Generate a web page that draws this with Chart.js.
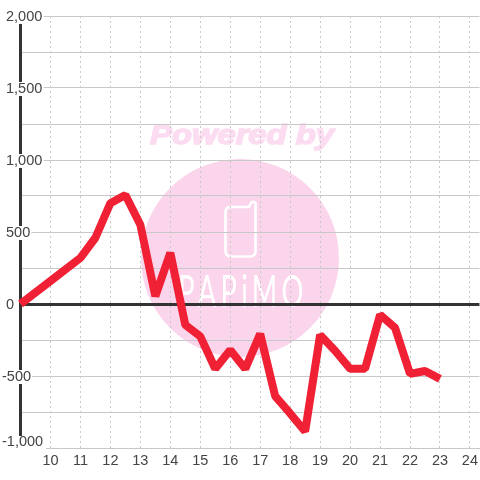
<!DOCTYPE html>
<html lang="en">
<head>
    <meta charset="UTF-8">
    <title>Chart</title>
    <style>
        html, body { margin: 0; padding: 0; background: #fff; overflow: hidden; }
        #wrap { position: relative; width: 480px; height: 480px; overflow: hidden; }
    </style>
</head>
<body>
    <div id="wrap"><canvas id="myChart" width="482" height="480"></canvas></div>

    <script src="https://cdn.jsdelivr.net/npm/chart.js"></script>
    <script>
        const hours = [9, 10, 11, 11.5, 12, 12.5, 13, 13.5, 14, 14.5, 15, 15.5, 16, 16.5, 17, 17.5, 18, 18.5, 19, 19.5, 20, 20.5, 21, 21.5, 22, 22.5, 23];
        const values = [0, 160, 320, 460, 700, 757, 550, 55, 355, -145, -225, -450, -320, -450, -208, -640, -760, -885, -215, -325, -450, -450, -75, -165, -485, -465, -520];
        const xTickLabels = [10, 11, 12, 13, 14, 15, 16, 17, 18, 19, 20, 21, 22, 23, 24];
        const yTickLabels = [2000, 1500, 1000, 500, 0, -500, -1000];

        // pink watermark sits behind the grid
        const watermark = {
            id: 'watermark',
            beforeDraw(chart) {
                const ctx = chart.ctx;
                ctx.save();
                ctx.fillStyle = '#fbd5ec';
                ctx.beginPath();
                ctx.arc(240, 258, 99, 0, Math.PI * 2);
                ctx.fill();

                ctx.save();
                ctx.fillStyle = '#fcdcf0';
                ctx.strokeStyle = '#fcdcf0';
                ctx.lineWidth = 1.5;
                ctx.translate(242, 144);
                ctx.scale(1.17, 1);
                ctx.font = 'italic bold 28px "Liberation Sans"';
                ctx.textAlign = 'center';
                ctx.fillText('Powered by', 0, 0);
                ctx.strokeText('Powered by', 0, 0);
                ctx.restore();

                // phone icon
                ctx.strokeStyle = '#fff';
                ctx.lineWidth = 2.6;
                ctx.beginPath();
                ctx.moveTo(231, 207);
                ctx.lineTo(249, 207);
                ctx.lineTo(251, 203);
                ctx.quadraticCurveTo(253, 200.5, 255.5, 203);
                ctx.lineTo(255.5, 251);
                ctx.quadraticCurveTo(255.5, 256.5, 250, 256.5);
                ctx.lineTo(231, 256.5);
                ctx.quadraticCurveTo(225.5, 256.5, 225.5, 251);
                ctx.lineTo(225.5, 212);
                ctx.quadraticCurveTo(225.5, 207, 231, 207);
                ctx.stroke();

                ctx.fillStyle = '#fff';
                ctx.translate(243, 307);
                ctx.scale(0.62, 1);
                ctx.font = '44px Lato';
                ctx.letterSpacing = '7px';
                ctx.textAlign = 'center';
                ctx.fillText('PAPiMO', 0, 0);
                ctx.restore();
            },
            // bottom y label has no backdrop of its own, so clear behind it here
            beforeDatasetsDraw(chart) {
                chart.ctx.save();
                chart.ctx.fillStyle = '#fff';
                chart.ctx.fillRect(0, 436, 46, 14);
                chart.ctx.restore();
            }
        };

        new Chart(document.getElementById('myChart').getContext('2d'), {
            type: 'line',
            data: {
                labels: hours,
                datasets: [{
                    data: hours.map((h, i) => ({ x: h, y: values[i] })),
                    borderColor: '#f02035',
                    borderWidth: 8,
                    borderJoinStyle: 'bevel',
                    borderCapStyle: 'butt',
                    pointRadius: 0,
                    tension: 0,
                    clip: false
                }]
            },
            options: {
                responsive: false,
                animation: false,
                layout: { autoPadding: false, padding: { top: 16, right: 0, bottom: 0, left: 0 } },
                plugins: { legend: { display: false }, tooltip: { enabled: false } },
                scales: {
                    x: {
                        type: 'linear',
                        min: 9,
                        max: 24.317,
                        afterFit(scale) { scale.height = 32; },
                        afterBuildTicks(scale) {
                            scale.ticks = xTickLabels.map(v => ({ value: v }));
                        },
                        grid: { color: '#c8c8c8', lineWidth: 1, drawTicks: false },
                        border: { color: '#c8c8c8', width: 1, dash: [2, 3] },
                        ticks: {
                            color: '#444',
                            font: { family: '"Liberation Sans"', size: 14.5 },
                            padding: 4,
                            maxRotation: 0,
                            autoSkip: false
                        }
                    },
                    y: {
                        min: -1000,
                        max: 2000,
                        afterFit(scale) { scale.width = 20.5; },
                        afterBuildTicks(scale) {
                            const t = [];
                            for (let v = -1000; v <= 2000; v += 250) t.push({ value: v });
                            scale.ticks = t;
                        },
                        grid: {
                            color: c => c.tick && c.tick.value === 0 ? '#333' : '#c8c8c8',
                            lineWidth: c => c.tick && c.tick.value === 0 ? 3 : 1,
                            drawTicks: false
                        },
                        border: { color: '#333', width: 3 },
                        ticks: {
                            color: '#444',
                            z: 1,
                            // two-line labels nudge the text off the gridline
                            font: c => ({
                                family: '"Liberation Sans"',
                                size: 14.5,
                                lineHeight: c.tick && c.tick.value === -1000 ? '12px' : '2px'
                            }),
                            mirror: true,
                            padding: -18.5,
                            autoSkip: false,
                            showLabelBackdrop: c => c.tick.value !== -1000 && yTickLabels.includes(c.tick.value),
                            backdropColor: '#fff',
                            backdropPadding: { top: 3, bottom: 7, left: 1, right: 1 },
                            callback: v => {
                                if (!yTickLabels.includes(v)) return '';
                                const s = v.toLocaleString('en-US');
                                if (v === -1000) return [s, ''];
                                return ['', v < 0 ? s : ' ' + s];
                            }
                        }
                    }
                }
            },
            plugins: [watermark]
        });
    </script>
</body>
</html>
